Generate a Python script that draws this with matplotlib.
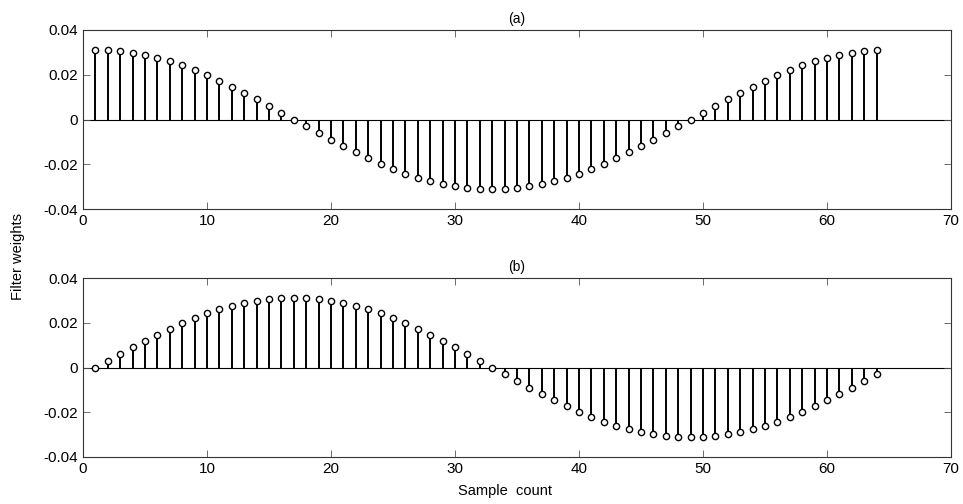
import numpy as np
import matplotlib.pyplot as plt

plt.rcParams['font.family'] = ['Liberation Sans', 'DejaVu Sans']

# sample index 1..64
samples = list(range(1, 65))

# filter (a): read from the stems
weights_a = [
    0.0312, 0.0311, 0.0306, 0.0299, 0.0289, 0.0276, 0.0260, 0.0242,
    0.0221, 0.0198, 0.0174, 0.0147, 0.0120, 0.0091, 0.0061, 0.0031,
    0.0000, -0.0031, -0.0061, -0.0091, -0.0120, -0.0147, -0.0174, -0.0198,
    -0.0221, -0.0242, -0.0260, -0.0276, -0.0289, -0.0299, -0.0306, -0.0311,
    -0.0312, -0.0311, -0.0306, -0.0299, -0.0289, -0.0276, -0.0260, -0.0242,
    -0.0221, -0.0198, -0.0174, -0.0147, -0.0120, -0.0091, -0.0061, -0.0031,
    0.0000, 0.0031, 0.0061, 0.0091, 0.0120, 0.0147, 0.0174, 0.0198,
    0.0221, 0.0242, 0.0260, 0.0276, 0.0289, 0.0299, 0.0306, 0.0311,
]

# filter (b)
weights_b = [
    0.0000, 0.0031, 0.0061, 0.0091, 0.0120, 0.0147, 0.0174, 0.0198,
    0.0221, 0.0242, 0.0260, 0.0276, 0.0289, 0.0299, 0.0306, 0.0311,
    0.0312, 0.0311, 0.0306, 0.0299, 0.0289, 0.0276, 0.0260, 0.0242,
    0.0221, 0.0198, 0.0174, 0.0147, 0.0120, 0.0091, 0.0061, 0.0031,
    0.0000, -0.0031, -0.0061, -0.0091, -0.0120, -0.0147, -0.0174, -0.0198,
    -0.0221, -0.0242, -0.0260, -0.0276, -0.0289, -0.0299, -0.0306, -0.0311,
    -0.0312, -0.0311, -0.0306, -0.0299, -0.0289, -0.0276, -0.0260, -0.0242,
    -0.0221, -0.0198, -0.0174, -0.0147, -0.0120, -0.0091, -0.0061, -0.0031,
]

xticks = [0, 10, 20, 30, 40, 50, 60, 70]
yticks = [-0.04, -0.02, 0, 0.02, 0.04]
ytick_labels = ['-0.04', '-0.02', '0', '0.02', '0.04']

fig = plt.figure(figsize=(9.63, 5.04), dpi=100)
ax_a = fig.add_axes([83 / 963, 1 - 209 / 504, 868 / 963, 179 / 504])
ax_b = fig.add_axes([83 / 963, 1 - 457 / 504, 868 / 963, 179 / 504])


def draw_stem(ax, y, title):
    ax.axhline(0, color='black', lw=0.8, zorder=1)
    ax.vlines(samples, 0, y, color='black', lw=1.4, zorder=2)
    ax.plot(samples, y, linestyle='none', marker='o', ms=4.5,
            mfc='white', mec='black', mew=1.0, zorder=3)
    ax.set_xlim(0, 70)
    ax.set_ylim(-0.04, 0.04)
    ax.set_xticks(xticks)
    ax.set_yticks(yticks)
    ax.set_yticklabels(ytick_labels)
    ax.tick_params(direction='in', top=True, right=True, length=5,
                   width=0.6, labelsize=11, color='#555555')
    for s in ax.spines.values():
        s.set_linewidth(0.8)
        s.set_color('#333333')
    ax.set_title(title, fontsize=10, pad=5)


draw_stem(ax_a, weights_a, '(a)')
draw_stem(ax_b, weights_b, '(b)')

fig.text(505 / 963, 1 - 491 / 504, 'Sample  count', fontsize=10.5,
         ha='center', va='center')
fig.text(18 / 963, 1 - 256 / 504, 'Filter weights', rotation=90,
         fontsize=10.5, ha='center', va='center')

fig.savefig('out.png', dpi=100)
